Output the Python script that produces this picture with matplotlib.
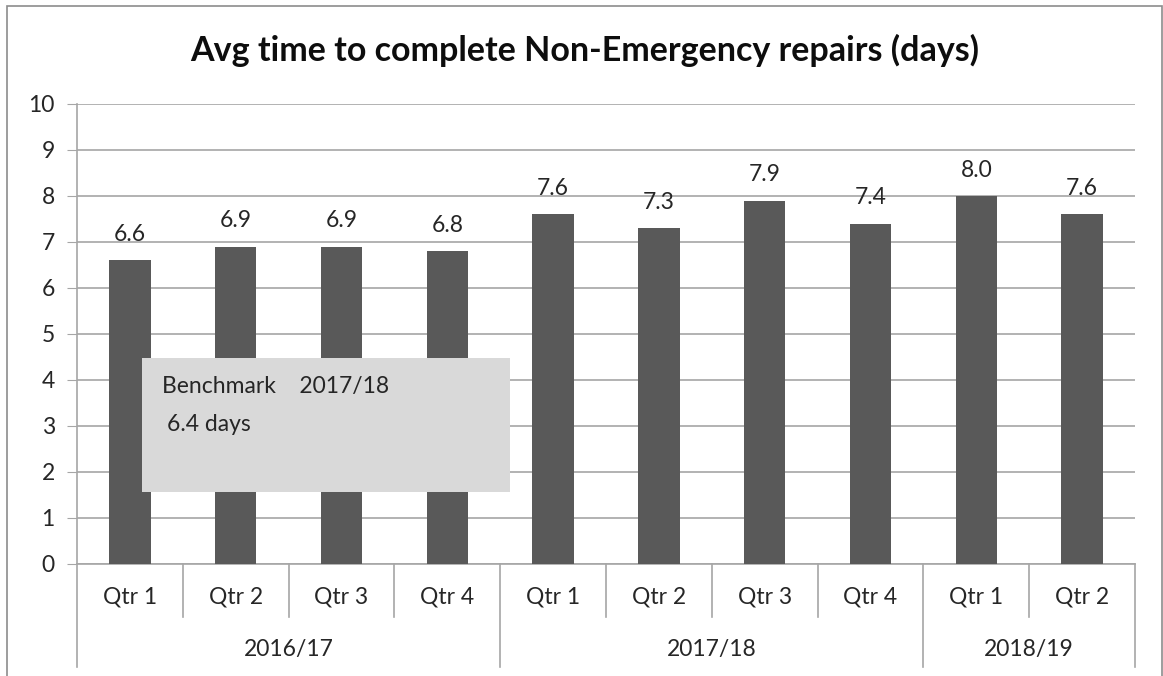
import matplotlib.pyplot as plt
from matplotlib.patches import Rectangle
from matplotlib.lines import Line2D

plt.rcParams['font.family'] = ['Lato', 'DejaVu Sans']

quarters = ['Qtr 1', 'Qtr 2', 'Qtr 3', 'Qtr 4', 'Qtr 1', 'Qtr 2', 'Qtr 3', 'Qtr 4', 'Qtr 1', 'Qtr 2']
years = ['2016/17', '2017/18', '2018/19']
year_sizes = [4, 4, 2]
values = [6.6, 6.9, 6.9, 6.8, 7.6, 7.3, 7.9, 7.4, 8.0, 7.6]

W, H = 1163, 676
fs = 16.5
txt = '#262626'
fig = plt.figure(figsize=(W / 100, H / 100), dpi=100)
fig.patches.append(Rectangle((7 / W, -0.1), (1162 - 7) / W, (H - 6) / H + 0.1,
                             transform=fig.transFigure, fill=False,
                             edgecolor='#8c8c8c', lw=1.2))

ax = fig.add_axes([77 / W, (H - 564) / H, (1135 - 77) / W, 460 / H])
x = list(range(len(values)))
ax.bar(x, values, width=0.39, color='#595959', zorder=3)
ax.set_xlim(-0.5, len(values) - 0.5)
ax.set_ylim(0, 10)
ax.set_yticks(range(0, 11))
ax.yaxis.grid(True, color='#a6a6a6', lw=1.2, zorder=0)
for s in ['top', 'right']:
    ax.spines[s].set_visible(False)
for s in ['left', 'bottom']:
    ax.spines[s].set_color('#a6a6a6')
    ax.spines[s].set_linewidth(1.2)
ax.tick_params(axis='y', length=7, color='#a6a6a6', labelsize=fs, pad=9, labelcolor=txt)
ax.set_xticks([])

for xi, v in zip(x, values):
    ax.annotate(f'{v:.1f}', (xi, v), xytext=(0, 14), textcoords='offset points',
                ha='center', va='baseline', fontsize=fs, color=txt)

# two-level category axis
tr = ax.get_xaxis_transform()
for xi, q in zip(x, quarters):
    ax.text(xi, -0.072, q, transform=tr, ha='center', va='center', fontsize=fs, color=txt)
start = 0
bounds = [-0.5]
for name, n in zip(years, year_sizes):
    ax.text(start + n / 2 - 0.5, -0.185, name, transform=tr, ha='center', va='center',
            fontsize=fs, color=txt)
    start += n
    bounds.append(start - 0.5)
for b in range(len(values) + 1):
    xb = b - 0.5
    y_end = -0.224 if xb in bounds else -0.115
    ax.add_line(Line2D([xb, xb], [0, y_end], transform=tr, color='#a6a6a6', lw=1.2, clip_on=False))

# benchmark box
ax.add_patch(Rectangle((0.0614, 0.1565), 0.409 - 0.0614, 0.448 - 0.1565, transform=ax.transAxes,
                       facecolor='#d9d9d9', edgecolor='none', zorder=4))
ax.text(0.0803, 0.385, 'Benchmark    2017/18', transform=ax.transAxes, ha='left', va='center',
        fontsize=fs, color=txt, zorder=5)
ax.text(0.085, 0.304, '6.4 days', transform=ax.transAxes, ha='left', va='center',
        fontsize=fs, color=txt, zorder=5)

fig.text(585 / W, (H - 50) / H, 'Avg time to complete Non-Emergency repairs (days)',
         ha='center', va='center', fontsize=24.5, fontweight='bold', color='#0d0d0d')

fig.savefig('out.png', dpi=100)
